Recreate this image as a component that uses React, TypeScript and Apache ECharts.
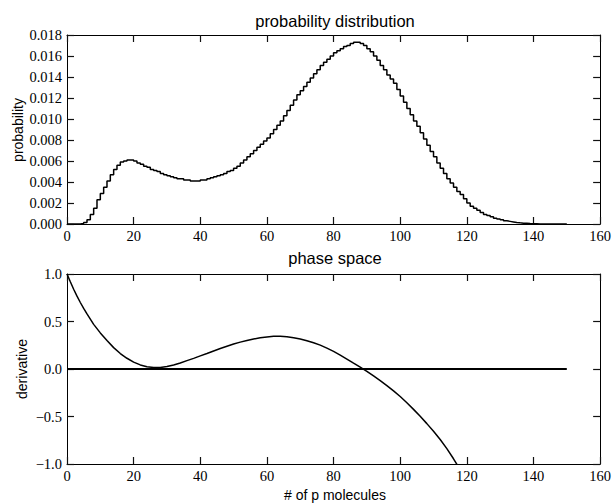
import React, { useEffect, useRef } from 'react';
import * as echarts from 'echarts';

// probability per unit bin [i, i+1), i = 0..149
const probs: number[] = [
  0, 0, 0, 0, 0.00005, 0.00015, 0.0004, 0.0009, 0.0015, 0.0023,
  0.0029, 0.0035, 0.0041, 0.0047, 0.0052, 0.0056, 0.0059, 0.0060, 0.0061, 0.0061,
  0.0060, 0.0058, 0.0057, 0.0055, 0.0054, 0.0052, 0.0051, 0.0050, 0.0048, 0.0047,
  0.0046, 0.0045, 0.0044, 0.0043, 0.0043, 0.0042, 0.0042, 0.0041, 0.0041, 0.0041,
  0.0042, 0.0042, 0.0043, 0.0044, 0.0045, 0.0046, 0.0047, 0.0048, 0.0050, 0.0051,
  0.0053, 0.0055, 0.0058, 0.0061, 0.0064, 0.0067, 0.0070, 0.0073, 0.0076, 0.0079,
  0.0082, 0.0086, 0.0090, 0.0094, 0.0098, 0.0103, 0.0108, 0.0113, 0.0118, 0.0123,
  0.0127, 0.0131, 0.0135, 0.0139, 0.0143, 0.0147, 0.0151, 0.0154, 0.0157, 0.0160,
  0.0163, 0.0165, 0.0167, 0.0169, 0.0170, 0.0172, 0.0173, 0.0173, 0.0172, 0.0170,
  0.0167, 0.0164, 0.0160, 0.0156, 0.0151, 0.0147, 0.0142, 0.0138, 0.0134, 0.0128,
  0.0122, 0.0116, 0.0110, 0.0104, 0.0098, 0.0093, 0.0087, 0.0081, 0.0075, 0.0069,
  0.0064, 0.0058, 0.0053, 0.0048, 0.0043, 0.0039, 0.0035, 0.0031, 0.0028, 0.0024,
  0.0020, 0.0017, 0.0015, 0.0013, 0.0011, 0.0009, 0.0008, 0.0007, 0.00055, 0.00047,
  0.0004, 0.0003, 0.00025, 0.0002, 0.00015, 0.00011, 0.00008, 0.00006, 0.00004, 0.00003,
  0.00002, 0.00001, 0.00001, 0.00001, 0, 0, 0, 0, 0, 0,
];

const derivX: number[] = [
  0, 1, 2, 3, 4, 5, 6, 8, 10, 12, 14, 16, 18, 20, 22, 24, 26, 28, 30, 32, 34, 36, 38,
  40, 42, 44, 46, 48, 50, 52, 54, 56, 58, 60, 62, 64, 66, 68, 70, 72, 74, 76, 78,
  80, 82, 84, 86, 88, 90, 92, 94, 96, 98, 100, 102, 104, 106, 108, 110, 112, 114, 116, 118,
];
const derivY: number[] = [
  1.0, 0.918, 0.84, 0.767, 0.7, 0.638, 0.58, 0.47, 0.38, 0.3, 0.225, 0.163, 0.113,
  0.073, 0.043, 0.024, 0.015, 0.016, 0.026, 0.043, 0.064, 0.088, 0.112,
  0.138, 0.163, 0.19, 0.216, 0.24, 0.263, 0.283, 0.3, 0.316, 0.329,
  0.338, 0.344, 0.345, 0.34, 0.33, 0.316, 0.298, 0.277, 0.251, 0.22,
  0.185, 0.147, 0.105, 0.062, 0.02, -0.024, -0.073, -0.122, -0.175, -0.23,
  -0.29, -0.355, -0.425, -0.498, -0.575, -0.655, -0.742, -0.838, -0.945, -1.06,
];
const zeroLineX: number[] = [0, 150];
const zeroLineY: number[] = [0, 0];

const xTicks = { min: 0, max: 160, interval: 20 };
const topY = { min: 0, max: 0.018, interval: 0.002 };
const botY = { min: -1, max: 1, interval: 0.5 };

const SERIF = "'Liberation Serif', 'Times New Roman', serif";
const SANS = "'Liberation Sans', Arial, sans-serif";

const fmt = (d: number) => (v: number) => {
  const s = Math.abs(v) < 1e-12 ? (0).toFixed(d) : v.toFixed(d);
  return s.replace('-', '\u2212');
};

export default function App() {
  const ref = useRef<HTMLDivElement>(null);
  useEffect(() => {
    if (!ref.current) return;
    const chart = echarts.init(ref.current, null, { renderer: 'svg' });

    const mkLine = () => ({ show: true, onZero: false, lineStyle: { color: '#000' } });
    const mkTick = () => ({ show: true, inside: true, length: 7, lineStyle: { color: '#111', width: 1.2 } });
    const mkLabel = (margin: number, d: number) => ({
      show: true, color: '#000', fontFamily: SERIF, fontSize: 14.5, margin, formatter: fmt(d),
    });

    const xAx = (gridIndex: number, position: string, showLabel: boolean) => ({
      type: 'value', gridIndex, position, ...xTicks,
      splitLine: { show: false }, axisLine: mkLine(), axisTick: mkTick(),
      axisLabel: showLabel ? mkLabel(4, 0) : { show: false },
    });
    const yAx = (gridIndex: number, position: string, showLabel: boolean, r: any, d: number) => ({
      type: 'value', gridIndex, position, ...r,
      splitLine: { show: false }, axisLine: mkLine(), axisTick: mkTick(),
      axisLabel: showLabel ? mkLabel(5, d) : { show: false },
    });

    const histData: number[][] = probs.map((p, i) => [i, p]);
    histData.push([probs.length, probs[probs.length - 1]]);
    const derivData = derivX.map((x, i) => [x, derivY[i]]);
    const zeroData = zeroLineX.map((x, i) => [x, zeroLineY[i]]);

    const text = (t: string, x: number, y: number, size: number, rot = 0) => ({
      type: 'text', x, y, rotation: rot,
      style: { text: t, fill: '#000', fontSize: size, fontFamily: SANS, align: 'center', verticalAlign: 'middle' },
    });

    chart.setOption({
      animation: false,
      grid: [
        { left: 67, top: 35, width: 537, height: 189 },
        { left: 67, top: 274, width: 537, height: 190 },
      ],
      xAxis: [xAx(0, 'bottom', true), xAx(0, 'top', false), xAx(1, 'bottom', true), xAx(1, 'top', false)],
      yAxis: [
        yAx(0, 'left', true, topY, 3), yAx(0, 'right', false, topY, 3),
        yAx(1, 'left', true, botY, 1), yAx(1, 'right', false, botY, 1),
      ],
      series: [
        {
          type: 'line', xAxisIndex: 0, yAxisIndex: 0, data: histData, step: 'end',
          showSymbol: false, symbol: 'none', lineStyle: { color: '#000', width: 1.5 }, clip: true,
        },
        {
          type: 'line', xAxisIndex: 2, yAxisIndex: 2, data: zeroData,
          showSymbol: false, symbol: 'none', lineStyle: { color: '#000', width: 2 },
        },
        {
          type: 'line', xAxisIndex: 2, yAxisIndex: 2, data: derivData,
          showSymbol: false, symbol: 'none', lineStyle: { color: '#000', width: 1.5 }, clip: true,
        },
      ],
      graphic: [
        text('probability distribution', 335, 21, 16.5),
        text('phase space', 335, 258, 16.5),
        text('probability', 17.5, 130, 14, Math.PI / 2),
        text('derivative', 22, 369, 14, Math.PI / 2),
        text('# of p molecules', 335, 495, 14),
      ],
    });
    return () => chart.dispose();
  }, []);
  return (
    <div
      ref={ref}
      style={{ position: 'fixed', left: 0, top: 0, width: 614, height: 504, background: '#fff' }}
    />
  );
}
